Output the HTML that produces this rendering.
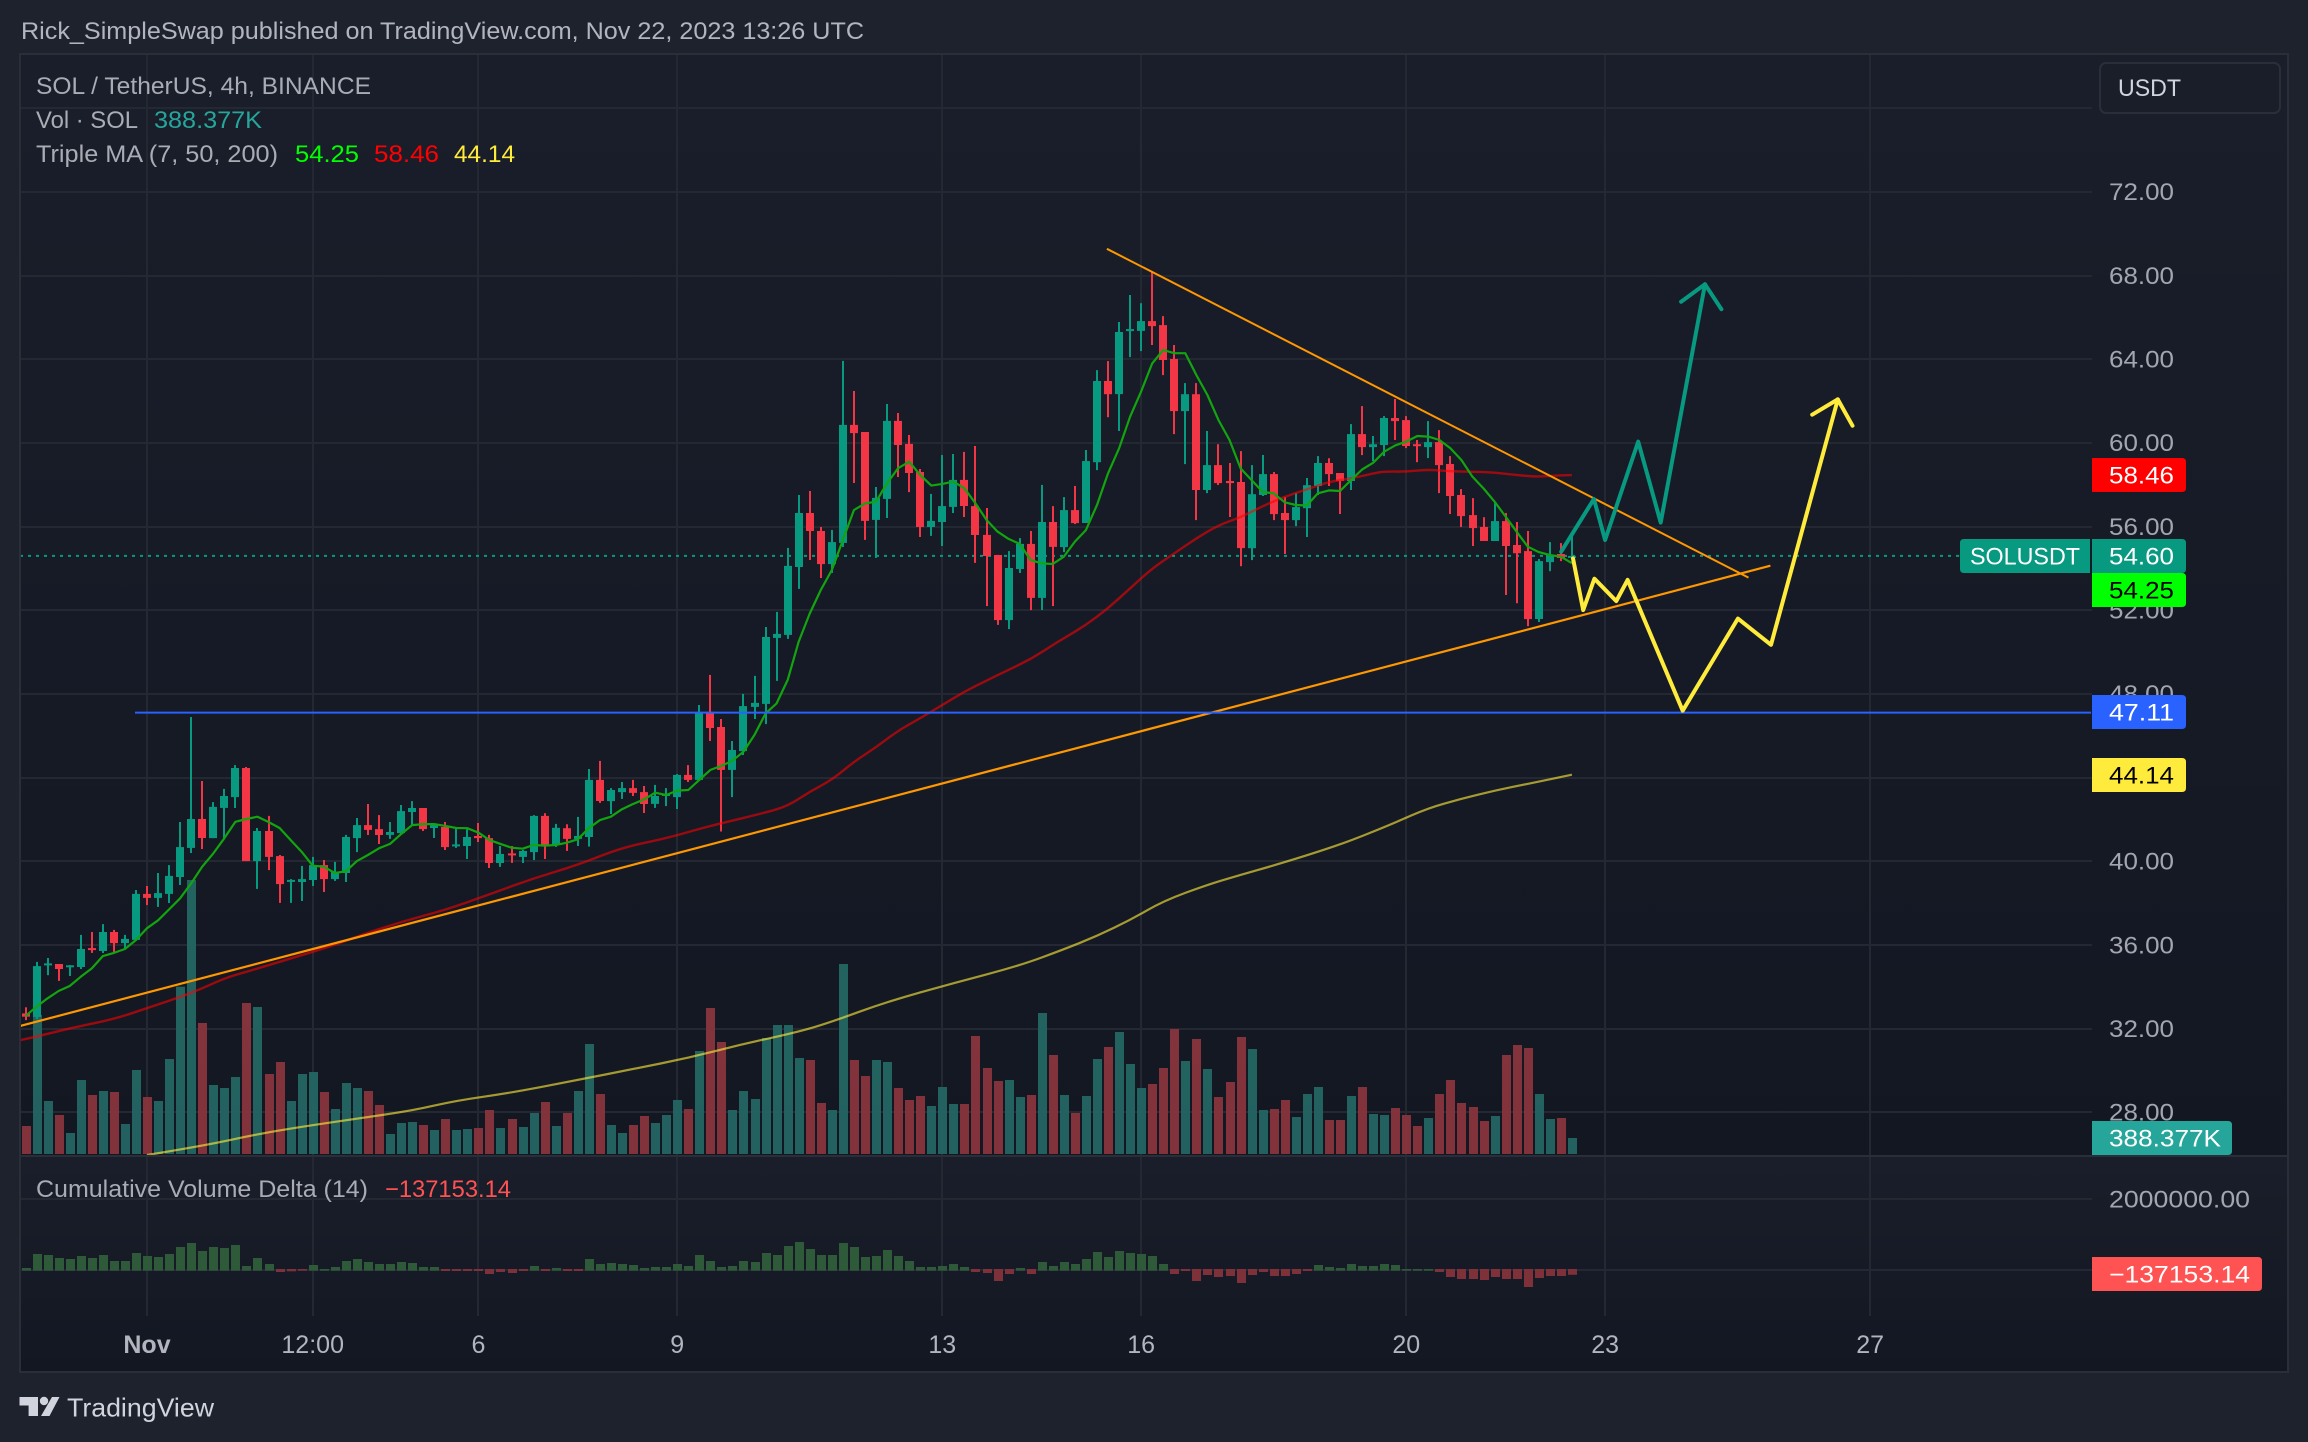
<!DOCTYPE html>
<html lang="en">
<head>
<meta charset="utf-8">
<title>SOL / TetherUS 4h chart</title>
<style>
html,body{margin:0;padding:0;background:#1e222d;}
svg{display:block;font-family:"Liberation Sans",sans-serif;}
</style>
</head>
<body>
<svg id="chart" xmlns="http://www.w3.org/2000/svg" width="2308" height="1442" viewBox="0 0 2308 1442">
  <defs>
    <linearGradient id="paneFill" x1="0" y1="0" x2="0" y2="1">
      <stop offset="0" stop-color="#1a1e2a"/>
      <stop offset="1" stop-color="#131722"/>
    </linearGradient>
    <clipPath id="mainClip"><rect x="21" y="55" width="2071" height="1100"/></clipPath>
    <clipPath id="cvdClip"><rect x="21" y="1158" width="2071" height="158"/></clipPath>
  </defs>
  <rect x="0" y="0" width="2308" height="1442" fill="#1e222d"/>
  <rect x="20" y="54" width="2268" height="1102" fill="url(#paneFill)"/>
  <rect x="20" y="1157" width="2268" height="214" fill="url(#paneFill)"/>
  <g id="grid"></g>
  <g id="volume"></g>
  <g id="cvd" clip-path="url(#cvdClip)"></g>
  <g id="overlayBelow" clip-path="url(#mainClip)"></g>
  <g id="candles" clip-path="url(#mainClip)"></g>
  <g id="overlayAbove" clip-path="url(#mainClip)"></g>
  <rect x="20" y="1155" width="2268" height="2" fill="#2a2e39"/>
  <rect x="20" y="54" width="2268" height="1318" fill="none" stroke="#2a2e39" stroke-width="2"/>
  <g id="priceAxis"></g>
  <g id="timeAxis"></g>

  <text x="21" y="39" font-size="24" fill="#b2b5be" textLength="843" lengthAdjust="spacingAndGlyphs">Rick_SimpleSwap published on TradingView.com, Nov 22, 2023 13:26 UTC</text>
  <text x="36" y="94" font-size="24" fill="#a9acb5" textLength="335" lengthAdjust="spacingAndGlyphs">SOL / TetherUS, 4h, BINANCE</text>
  <text x="36" y="128" font-size="24" fill="#a9acb5" textLength="102" lengthAdjust="spacingAndGlyphs">Vol · SOL</text>
  <text x="154" y="128" font-size="24" fill="#26a69a" textLength="108" lengthAdjust="spacingAndGlyphs">388.377K</text>
  <text x="36" y="162" font-size="24" fill="#a9acb5" textLength="242" lengthAdjust="spacingAndGlyphs">Triple MA (7, 50, 200)</text>
  <text x="295" y="162" font-size="24" fill="#00ff00" textLength="64" lengthAdjust="spacingAndGlyphs">54.25</text>
  <text x="374" y="162" font-size="24" fill="#ff0000" textLength="65" lengthAdjust="spacingAndGlyphs">58.46</text>
  <text x="454" y="162" font-size="24" fill="#ffeb3b" textLength="61" lengthAdjust="spacingAndGlyphs">44.14</text>
  <text x="36" y="1197" font-size="24" fill="#a9acb5" textLength="332" lengthAdjust="spacingAndGlyphs">Cumulative Volume Delta (14)</text>
  <text x="385" y="1197" font-size="24" fill="#ff5252" textLength="126" lengthAdjust="spacingAndGlyphs">−137153.14</text>

  <g>
    <rect x="2100" y="63" width="180" height="50" rx="6" fill="#1a1e29" stroke="#2a2e39" stroke-width="2"/>
    <text x="2118" y="96" font-size="24" fill="#d1d4dc" textLength="63" lengthAdjust="spacingAndGlyphs">USDT</text>
  </g>

  <g>
    <path fill="#d1d4dc" d="M19.5 1397H38V1416H28.6V1405.5H19.5Z M52 1397H59.5L49.5 1416H41Z"/>
    <circle cx="44" cy="1401" r="4.2" fill="#d1d4dc"/>
    <text x="67" y="1416.5" font-size="26" fill="#d1d4dc" textLength="147" lengthAdjust="spacingAndGlyphs">TradingView</text>
  </g>
</svg>

<script>
// ---- tick labels ----
const priceTicks = [28,32,36,40,44,48,52,56,60,64,68,72,76];
const hiddenPriceLabels = [76];
const cvdTicks = [0,2000000];
const timeTickBars = [11,26,41,59,83,101,125,143,167];
const timeTickLabels = ['Nov','12:00','6','9','13','16','20','23','27'];

// ---- OHLC, one value per 4h bar ----
const opens = [
32.73,32.56,35.04,35.09,34.96,34.95,35.85,35.71,36.62,36.09,
36.24,38.44,38.25,38.44,39.25,40.64,42.02,41.11,42.55,43.07,
44.46,40.01,41.45,40.25,39.03,39.01,39.11,39.82,39.15,39.44,
41.11,41.73,41.54,41.26,41.35,42.36,42.55,41.59,41.64,40.73,
40.73,41.21,41.11,39.92,40.38,40.21,40.44,42.17,40.78,41.58,
41.07,41.16,43.89,42.88,43.31,43.50,43.31,42.74,43.12,43.07,
44.13,43.89,47.14,46.42,44.37,45.27,47.38,47.52,50.68,50.82,
54.07,56.65,55.79,54.21,55.22,60.86,60.52,56.32,57.32,61.05,
59.95,58.61,55.98,56.22,56.94,58.23,56.98,55.60,54.64,51.53,
53.97,55.17,52.59,56.22,55.02,56.79,56.17,59.08,62.96,62.33,
65.35,65.35,65.82,65.63,64.01,61.52,62.33,57.75,58.94,58.18,
58.13,54.97,57.51,58.51,56.65,56.31,56.88,57.94,59.04,58.56,
58.18,60.42,59.80,59.90,61.19,61.09,59.94,59.80,60.04,58.99,
57.51,56.55,55.98,55.31,56.26,55.12,54.83,51.58,54.30,54.69,54.54];
const closes = [
32.57,34.99,35.12,34.85,35.03,35.81,35.76,36.62,36.09,36.29,
38.44,38.25,38.48,39.30,40.68,42.02,41.11,42.60,43.12,44.46,
40.01,41.45,40.21,38.91,39.11,39.15,39.82,39.15,39.49,41.16,
41.73,41.50,41.26,41.40,42.40,42.55,41.54,41.73,40.68,40.81,
41.16,41.11,39.92,40.35,40.30,40.49,42.17,40.78,41.60,41.07,
41.21,43.89,42.88,43.41,43.50,43.27,42.74,43.12,43.22,44.13,
43.89,47.14,46.37,44.37,45.32,47.42,47.57,50.72,50.87,54.12,
56.65,55.79,54.21,55.26,60.86,60.47,56.27,57.37,61.05,59.90,
58.56,55.98,56.27,56.98,58.23,56.98,55.60,54.59,51.53,54.02,
55.17,52.59,56.22,55.03,56.79,56.17,59.13,62.96,62.33,65.30,
65.44,65.82,65.58,63.96,61.52,62.33,57.75,58.94,58.08,58.08,
54.97,57.55,58.51,56.60,56.31,56.93,57.98,59.04,58.51,58.18,
60.42,59.80,59.94,61.19,61.04,59.85,59.86,60.04,58.94,57.46,
56.50,55.93,55.31,56.26,55.07,54.73,51.58,54.35,54.64,54.50,54.60];
const highs = [
33.02,35.19,35.38,35.09,35.04,36.48,36.62,37.00,36.72,36.48,
38.63,38.82,39.44,39.82,41.88,46.90,43.84,42.83,43.46,44.60,
44.51,41.59,42.17,40.30,39.15,39.78,40.21,40.06,39.97,41.26,
42.07,42.74,42.21,41.88,42.69,42.88,42.55,41.81,41.88,41.64,
41.54,41.83,41.26,40.73,40.73,40.54,42.21,42.30,41.79,41.77,
42.12,44.41,44.80,43.50,43.79,43.89,43.60,43.65,43.50,44.17,
44.60,47.47,48.91,46.80,45.75,48.00,48.86,51.20,51.92,54.98,
57.51,57.70,55.98,55.84,63.92,62.48,60.52,57.89,61.86,61.43,
60.38,58.75,57.56,59.42,59.47,59.57,59.85,56.89,54.64,54.83,
55.45,55.79,57.99,56.98,57.41,57.94,59.66,63.48,63.91,65.78,
67.07,66.68,68.17,66.06,64.68,62.86,62.86,60.57,59.94,59.04,
59.61,58.94,59.42,58.61,57.41,57.60,58.32,59.37,59.27,58.56,
60.90,61.76,60.33,61.28,62.10,61.28,60.14,61.04,60.61,59.37,
57.79,57.36,56.45,57.17,56.65,56.22,55.79,54.45,55.26,55.21,55.55];
const lows = [
32.41,32.45,34.56,34.28,34.52,34.85,35.62,35.62,35.66,35.81,
36.24,37.91,37.82,38.01,38.87,40.40,40.59,41.11,41.11,42.55,
40.01,38.68,39.58,38.01,38.01,38.10,38.82,38.53,39.06,39.01,
40.44,41.26,40.83,41.07,41.30,41.73,41.45,41.11,40.54,40.64,
40.11,40.92,39.68,39.73,39.92,39.92,40.06,40.11,40.69,40.50,
40.73,40.70,42.79,42.26,42.98,43.12,42.31,42.55,42.64,42.50,
43.79,43.89,45.75,41.42,43.07,45.08,46.80,46.56,48.62,50.63,
53.02,54.40,53.54,53.78,55.03,58.08,55.36,54.50,56.41,58.37,
57.65,55.50,55.55,55.07,56.65,56.46,54.26,52.20,51.30,51.10,
53.78,52.01,52.01,52.20,54.78,56.12,56.17,58.70,61.23,60.57,
64.10,64.39,64.68,63.24,60.42,58.99,56.31,57.60,57.99,56.46,
54.11,54.40,57.46,56.31,54.69,56.02,55.50,57.51,57.94,56.60,
57.75,59.42,59.13,59.37,60.14,59.75,59.08,59.27,57.60,56.60,
55.98,55.07,55.31,55.31,52.73,52.34,51.24,51.44,53.87,54.35,54.45];

// ---- volume in thousands of SOL ----
const volumes = [
680,3374,1286,947,510,1796,1432,1529,1505,728,
2039,1383,1286,2306,4061,6650,3179,1675,1602,1869,
3665,3568,1942,2233,1286,1942,1990,1505,1092,1723,
1602,1529,1189,485,752,777,704,582,849,582,
607,631,1068,631,849,655,995,1262,680,995,
1529,2670,1456,704,510,704,922,752,947,1311,
1092,2500,3543,2718,1068,1529,1335,2815,3131,3131,
2330,2281,1238,1068,4611,2281,1893,2281,2233,1602,
1311,1408,1165,1626,1214,1214,2864,2087,1772,1796,
1383,1432,3422,2403,1432,995,1408,2306,2597,2961,
2184,1602,1699,2087,3034,2257,2791,2063,1383,1747,
2840,2548,1068,1092,1311,898,1456,1626,825,825,
1408,1626,971,947,1116,947,680,874,1456,1796,
1238,1141,801,922,2403,2645,2573,1456,849,874,388];

// ---- cumulative volume delta in thousands ----
const cvdValues = [
57,453,424,339,311,396,339,424,255,255,
481,396,368,453,651,764,538,651,622,707,
113,339,170,-57,-38,-19,141,28,85,255,
311,226,170,170,226,198,85,85,-28,-28,
-28,-28,-113,-57,-85,-28,113,-28,57,-28,
-28,311,170,198,170,141,57,85,85,170,
113,424,255,85,113,255,226,481,424,679,
792,594,424,424,764,651,368,396,566,396,
255,85,85,113,170,85,-57,-85,-311,-113,
57,-113,226,113,226,170,311,509,368,538,
481,453,396,170,-113,-28,-311,-141,-198,-170,
-368,-141,-57,-170,-170,-113,-28,141,85,57,
170,113,113,170,141,28,28,28,-57,-198,
-255,-255,-283,-198,-255,-255,-481,-226,-170,-170,-137];

// ---- moving averages ----
const ma7 = [
32.60,33.05,33.45,33.80,34.04,34.48,34.88,35.47,35.62,35.81,
36.24,36.80,37.18,37.70,38.23,38.95,39.74,40.38,41.10,41.89,
42.02,42.13,41.88,41.59,41.02,40.46,39.79,39.74,39.44,39.52,
40.01,40.30,40.62,40.83,41.30,41.73,41.78,41.78,41.69,41.59,
41.58,41.37,41.02,40.83,40.65,40.60,40.78,40.75,40.78,40.89,
41.05,41.58,41.97,42.13,42.49,42.74,42.96,43.28,43.17,43.38,
43.41,43.89,44.37,44.56,44.81,45.24,46.04,47.07,47.55,48.67,
50.50,51.85,52.97,53.93,55.36,56.79,57.11,57.19,58.07,58.79,
59.10,58.47,57.96,58.04,58.15,57.83,57.11,56.32,55.76,55.41,
55.17,54.40,54.24,54.21,54.56,55.28,55.83,57.03,58.54,59.74,
61.25,62.45,63.80,64.44,64.29,64.29,63.24,62.29,61.09,60.14,
58.78,58.22,57.66,57.59,57.16,57.03,57.01,57.59,57.73,57.70,
58.22,58.73,59.05,59.58,59.88,60.06,60.33,60.30,60.14,59.74,
59.18,58.38,57.82,57.19,56.47,55.75,55.04,54.78,54.64,54.56,54.25];
const ma50Bars = [-1,0,4,8,11,15,18,20,24,28,30,34,38,42,46,50,54,58,61,63,67,69,71,73,75,77,79,81,83,85,87,89,91,93,94,96,98,100,102,104,106,108,110,112,114,116,118,120,122,123,125,127,129,131,133,135,137,139,140];
const ma50Values = [31.40,31.49,32.02,32.45,32.98,33.69,34.41,34.72,35.35,36.00,36.40,37.11,37.67,38.42,39.19,39.83,40.66,41.10,41.55,41.82,42.33,42.64,43.33,43.89,44.76,45.45,46.25,46.84,47.47,48.11,48.64,49.15,49.66,50.34,50.66,51.29,52.09,53.05,54.00,54.72,55.44,56.07,56.44,56.98,57.43,57.78,58.14,58.30,58.54,58.64,58.62,58.73,58.64,58.62,58.59,58.46,58.38,58.45,58.46];
const ma200Bars = [11,16,21,25,30,35,39,44,50,55,60,65,70,73,78,84,90,94,97,100,103,107,110,113,117,120,124,127,130,133,136,140];
const ma200Values = [25.96,26.39,26.96,27.31,27.70,28.08,28.56,28.94,29.55,30.07,30.60,31.27,31.85,32.33,33.29,34.18,35.01,35.79,36.43,37.19,38.10,38.88,39.35,39.80,40.45,40.99,41.85,42.55,42.99,43.38,43.70,44.14];

// ---- hand drawings, as bar index / price pairs ----
const risingTrendBars = [-0.46,157.97];
const risingTrendPrices = [32.13,54.13];
const fallingTrendBars = [97.9,155.98];
const fallingTrendPrices = [69.28,53.56];
const horizontalLineBars = [9.91,187];
const horizontalLinePrices = [47.11,47.11];
const bullPathBars = [139.03,141.99,143.0,146.0,148.04,152.05];
const bullPathPrices = [54.80,57.32,55.36,60.06,56.19,67.58];
const bullHeadBars = [149.88,152.05,153.53];
const bullHeadPrices = [66.75,67.58,66.39];
const bearPathBars = [140.1,141.02,142.03,144.02,145.04,150.03,155.02,158.02,164.07];
const bearPathPrices = [54.48,52.01,53.51,52.44,53.45,47.2,51.6,50.35,62.08];
const bearHeadBars = [161.75,164.07,165.4];
const bearHeadPrices = [61.35,62.08,60.82];
const lastPrice = 54.60;

// ---- axis functions ----
function xBar(i){ return 25.5 + 11.046 * i; }
function yPrice(p){ return 861.3 - (p - 40) * 20.92; }
function yVol(k){ return 1154 - k / 24.27; }
function yCvd(k){ return 1270 - k / 28.29; }

const NS = 'http://www.w3.org/2000/svg';
function make(tag, parent, props){
  const e = document.createElementNS(NS, tag);
  for (const k in props) e.setAttribute(k, props[k]);
  parent.appendChild(e);
  return e;
}
function pointsOf(bars, vals){
  return bars.map(function(b, i){ return xBar(b).toFixed(1) + ',' + yPrice(vals[i]).toFixed(1); }).join(' ');
}
function smoothPath(bars, vals){
  const px = bars.map(xBar);
  const py = vals.map(yPrice);
  let d = 'M' + px[0].toFixed(1) + ' ' + py[0].toFixed(1);
  for (let i = 1; i < px.length - 1; i++) {
    const mx = (px[i] + px[i+1]) / 2;
    const my = (py[i] + py[i+1]) / 2;
    d += 'Q' + px[i].toFixed(1) + ' ' + py[i].toFixed(1) + ' ' + mx.toFixed(1) + ' ' + my.toFixed(1);
  }
  d += 'L' + px[px.length-1].toFixed(1) + ' ' + py[py.length-1].toFixed(1);
  return d;
}

const UP = '#089981', DOWN = '#f23645';
const gridG = document.getElementById('grid');
const volG = document.getElementById('volume');
const cvdG = document.getElementById('cvd');
const belowG = document.getElementById('overlayBelow');
const candleG = document.getElementById('candles');
const aboveG = document.getElementById('overlayAbove');
const priceG = document.getElementById('priceAxis');
const timeG = document.getElementById('timeAxis');

// grid
priceTicks.forEach(function(t){
  const gl = make('rect', gridG, {x:20, y:Math.round(yPrice(t))-1, width:2072, height:2, fill:'#242833'});
  
  
});
cvdTicks.forEach(function(t){
  const gl = make('rect', gridG, {x:20, y:Math.round(yCvd(t/1000))-1, width:2072, height:2, fill:'#242833'});
  
  
});
timeTickBars.forEach(function(b){
  const gl = make('rect', gridG, {x:Math.round(xBar(b))-1, y:54, width:2, height:1262, fill:'#242833'});
  
  
});

// volume
volumes.forEach(function(v, i){
  const up = closes[i] >= opens[i];
  const top = yVol(v);
  const bar = make('rect', volG, {x:Math.round(xBar(i))-4, y:top.toFixed(1), width:9, height:(1154-top).toFixed(1), fill: up ? '#236562' : '#87343c', 'fill-opacity':0.96});
  
  
});

// cvd
cvdValues.forEach(function(v, i){
  const yv = yCvd(v);
  const top = v >= 0 ? yv : 1269;
  const bottom = v >= 0 ? 1270.7 : yv;
  const bar = make('rect', cvdG, {x:Math.round(xBar(i))-4, y:top.toFixed(1), width:9, height:Math.max(1, bottom-top).toFixed(1), fill: v >= 0 ? '#2f5a3a' : '#7e3139'});
  
  
});

// slow moving averages and last price line
const ma200Line = make('path', belowG, {d:smoothPath(ma200Bars, ma200Values), fill:'none', stroke:'#ffeb3b', 'stroke-opacity':0.62, 'stroke-width':2.2});


const priceLine = make('line', belowG, {x1:20, x2:1960, y1:yPrice(lastPrice), y2:yPrice(lastPrice), stroke:UP, 'stroke-width':2, 'stroke-dasharray':'3 5'});



// candles
opens.forEach(function(o, i){
  const c = closes[i];
  const col = c >= o ? UP : DOWN;
  const cx = Math.round(xBar(i));
  const yh = yPrice(highs[i]);
  const yl = yPrice(lows[i]);
  const yt = yPrice(Math.max(o, c));
  const yb = yPrice(Math.min(o, c));
  const wick = make('rect', candleG, {x:cx-1, y:yh.toFixed(1), width:2, height:Math.max(1, yl-yh).toFixed(1), fill:col});
  
  
  const body = make('rect', candleG, {x:cx-4, y:yt.toFixed(1), width:8, height:Math.max(2, yb-yt).toFixed(1), fill:col});
  
  
});

// fast moving averages and drawings
const ma50Line = make('path', aboveG, {d:smoothPath(ma50Bars, ma50Values), fill:'none', stroke:'#ff0000', 'stroke-opacity':0.58, 'stroke-width':2.4});


const ma7Line = make('polyline', aboveG, {points:pointsOf(ma7.map(function(_, i){ return i; }), ma7), fill:'none', stroke:'#12a50f', 'stroke-width':2.2, 'stroke-linejoin':'round'});


const risingLine = make('polyline', aboveG, {points:pointsOf(risingTrendBars, risingTrendPrices), fill:'none', stroke:'#ff9800', 'stroke-width':2.2});


const fallingLine = make('polyline', aboveG, {points:pointsOf(fallingTrendBars, fallingTrendPrices), fill:'none', stroke:'#ff9800', 'stroke-width':2});


const hLine = make('polyline', aboveG, {points:pointsOf(horizontalLineBars, horizontalLinePrices), fill:'none', stroke:'#2962ff', 'stroke-width':2});


const bullLine = make('polyline', aboveG, {points:pointsOf(bullPathBars, bullPathPrices), fill:'none', stroke:UP, 'stroke-width':4, 'stroke-linejoin':'round', 'stroke-linecap':'round'});


const bullHead = make('polyline', aboveG, {points:pointsOf(bullHeadBars, bullHeadPrices), fill:'none', stroke:UP, 'stroke-width':4, 'stroke-linejoin':'round', 'stroke-linecap':'round'});


const bearLine = make('polyline', aboveG, {points:pointsOf(bearPathBars, bearPathPrices), fill:'none', stroke:'#ffeb3b', 'stroke-width':4, 'stroke-linejoin':'round', 'stroke-linecap':'round'});


const bearHead = make('polyline', aboveG, {points:pointsOf(bearHeadBars, bearHeadPrices), fill:'none', stroke:'#ffeb3b', 'stroke-width':4, 'stroke-linejoin':'round', 'stroke-linecap':'round'});



// price axis labels
priceTicks.forEach(function(t){
  if (hiddenPriceLabels.indexOf(t) >= 0) return;
  const lab = make('text', priceG, {x:2109, y:(yPrice(t)+8.3).toFixed(1), 'font-size':24, fill:'#a3a6af', textLength:65, lengthAdjust:'spacingAndGlyphs'});
  lab.textContent = t.toFixed(2);
  
  
});
const cvdLab = make('text', priceG, {x:2109, y:(yCvd(cvdTicks[1]/1000)+8.3).toFixed(1), 'font-size':24, fill:'#a3a6af', textLength:141, lengthAdjust:'spacingAndGlyphs'});
cvdLab.textContent = cvdTicks[1].toFixed(2);



// time axis labels
timeTickBars.forEach(function(b, i){
  const s = timeTickLabels[i];
  const lab = make('text', timeG, {x:xBar(b).toFixed(1), y:1353, 'text-anchor':'middle', 'font-size':25, fill:'#b2b5be', 'font-weight': s === 'Nov' ? 'bold' : 'normal'});
  lab.textContent = s;
  
  
});

// value tags
function tagPath(x, y, w, h, left, right){
  const r = 4;
  const rl = left ? r : 0, rr = right ? r : 0;
  return 'M' + (x+rl) + ' ' + y + 'H' + (x+w-rr) + 'Q' + (x+w) + ' ' + y + ' ' + (x+w) + ' ' + (y+rr) +
    'V' + (y+h-rr) + 'Q' + (x+w) + ' ' + (y+h) + ' ' + (x+w-rr) + ' ' + (y+h) +
    'H' + (x+rl) + 'Q' + x + ' ' + (y+h) + ' ' + x + ' ' + (y+h-rl) +
    'V' + (y+rl) + 'Q' + x + ' ' + y + ' ' + (x+rl) + ' ' + y + 'Z';
}
const tagLabels = ['58.46','54.60','54.25','47.11','44.14','388.377K','−137153.14','SOLUSDT'];
const tagTops = [458,539,573,695,758,1121,1257,539];
const tagLefts = [2092,2092,2092,2092,2092,2092,2092,1960];
const tagWidths = [94,94,94,94,94,140,170,130];
const tagFills = ['#ff0000','#089981','#00ff00','#2962ff','#ffeb3b','#26a69a','#ff5252','#089981'];
const tagInk = ['#ffffff','#ffffff','#000000','#ffffff','#000000','#ffffff','#ffffff','#ffffff'];
const tagTextX = [2109,2109,2109,2109,2109,2109,2109,1970];
const tagTextW = [65,65,65,65,65,112,141,110];
tagLabels.forEach(function(s, i){
  const isLeft = s === 'SOLUSDT';
  const box = make('path', priceG, {d:tagPath(tagLefts[i], tagTops[i], tagWidths[i], 34, isLeft, !isLeft), fill:tagFills[i]});
  
  
  const txt = make('text', priceG, {x:tagTextX[i], y:tagTops[i]+25.4, 'font-size':24, fill:tagInk[i], textLength:tagTextW[i], lengthAdjust:'spacingAndGlyphs'});
  txt.textContent = s;
  
  
});
</script>
</body>
</html>
